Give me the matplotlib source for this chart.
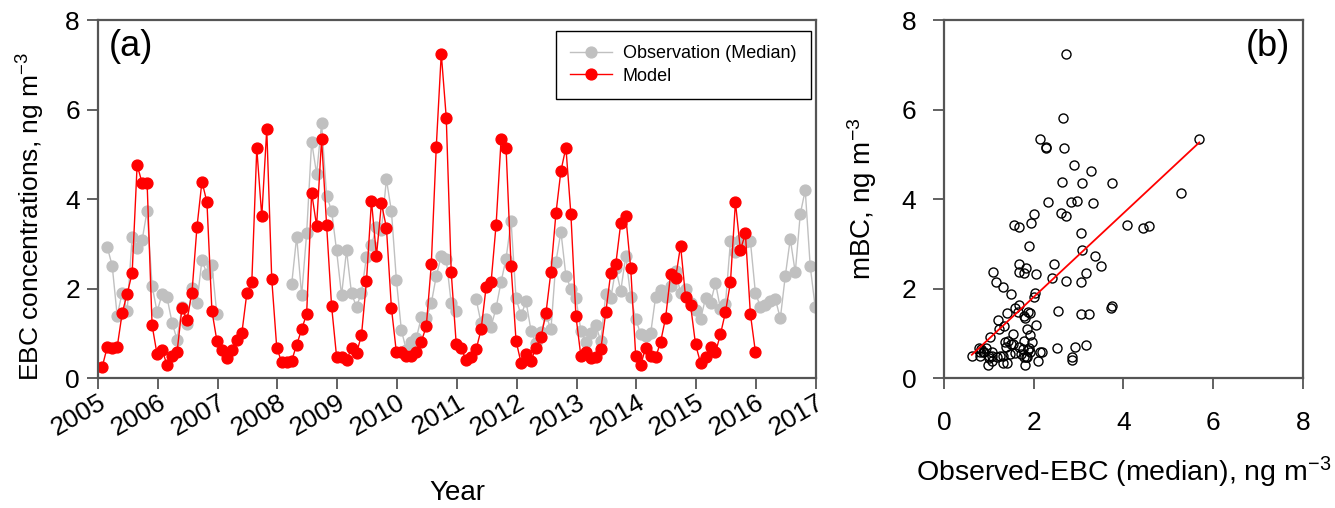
import numpy as np
import matplotlib
matplotlib.use("Agg")
import matplotlib.pyplot as plt

plt.rcParams['font.family'] = ['Liberation Sans', 'DejaVu Sans']
plt.rcParams['mathtext.fontset'] = 'custom'
plt.rcParams['mathtext.rm'] = 'Liberation Sans'
plt.rcParams['mathtext.it'] = 'Liberation Sans:italic'

nan = np.nan

# monthly values starting Jan 2005
first_year = 2005
year_ticks = np.arange(2005, 2018)

# modelled EBC, Jan 2005 - Dec 2015 (ng m-3)
model = [0.25, 0.69, 0.66, 0.69, 1.45, 1.88, 2.34, 4.76, 4.36, 4.36, 1.18, 0.53,
         0.63, 0.29, 0.50, 0.57, 1.57, 1.30, 1.91, 3.37, 4.39, 3.93, 1.50, 0.83,
         0.63, 0.45, 0.63, 0.85, 1.00, 1.89, 2.14, 5.13, 3.61, 5.56, 2.21, 0.68,
         0.35, 0.35, 0.39, 0.74, 1.09, 1.43, 4.14, 3.40, 5.34, 3.42, 1.61, 0.48,
         0.46, 0.40, 0.66, 0.55, 0.96, 2.17, 3.96, 2.73, 3.90, 3.36, 1.57, 0.57,
         0.59, 0.50, 0.49, 0.59, 0.81, 1.16, 2.54, 5.17, 7.25, 5.82, 2.36, 0.76,
         0.66, 0.40, 0.46, 0.64, 1.09, 2.04, 2.15, 3.43, 5.33, 5.13, 2.50, 0.83,
         0.34, 0.54, 0.38, 0.68, 0.91, 1.45, 2.38, 3.68, 4.63, 5.15, 3.66, 1.39,
         0.49, 0.57, 0.44, 0.48, 0.64, 1.47, 2.35, 2.54, 3.46, 3.62, 2.45, 0.49,
         0.29, 0.68, 0.49, 0.46, 0.81, 1.35, 2.32, 2.23, 2.96, 1.80, 1.63, 0.75,
         0.34, 0.48, 0.69, 0.57, 0.98, 1.47, 2.14, 3.93, 2.86, 3.23, 1.43, 0.59]

# observed EBC monthly median, Jan 2005 - Dec 2016 (nan = no data)
obs = [nan, 2.93, 2.51, 1.39, 1.91, 1.50, 3.16, 2.90, 3.08, 3.74, 2.06, 1.48,
       1.87, 1.80, 1.24, 0.86, 1.59, 1.21, 2.02, 1.68, 2.64, 2.32, 2.53, 1.42,
       nan, nan, nan, nan, nan, nan, nan, nan, nan, nan, nan, nan,
       nan, nan, 2.10, 3.16, 1.85, 3.23, 5.28, 4.56, 5.69, 4.07, 3.74, 2.85,
       1.85, 2.85, 1.89, 1.59, 1.91, 2.71, 2.97, 3.37, 3.31, 4.44, 3.73, 2.19,
       1.07, 0.62, 0.81, 0.89, 1.36, 1.34, 1.67, 2.28, 2.73, 2.65, 1.67, 1.50,
       nan, nan, nan, 1.76, 1.22, 1.31, 1.15, 1.57, 2.15, 2.67, 3.51, 1.78,
       1.40, 1.71, 1.06, 0.78, 1.02, 1.40, 1.09, 2.60, 3.27, 2.28, 2.00, 1.79,
       1.06, 0.81, 1.01, 1.18, 0.82, 1.88, 1.78, 2.45, 1.95, 2.72, 1.82, 1.32,
       0.98, 0.94, 1.00, 1.82, 1.96, 1.80, 2.06, 2.40, 1.89, 2.00, 1.67, 1.53,
       1.31, 1.78, 1.67, 2.13, 1.54, 1.65, 3.06, 2.82, 3.08, 3.05, 3.06, 1.91,
       1.59, 1.63, 1.71, 1.77, 1.33, 2.28, 3.11, 2.36, 3.66, 4.20, 2.50, 1.58]

model = np.array(model)
obs = np.array(obs)
t_model = first_year + (np.arange(len(model)) + 0.85) / 12
t_obs = first_year + (np.arange(len(obs)) + 0.85) / 12

# matched pairs for the scatter plot
obs_m = obs[:len(model)]
ok = ~np.isnan(obs_m)
x_sc = obs_m[ok]
y_sc = model[ok]
slope, icpt = np.polyfit(x_sc, y_sc, 1)
x_fit = np.array([x_sc.min(), x_sc.max()])

spine_col = '#555555'

fig = plt.figure(figsize=(13.35, 5.08), dpi=100)
ax1 = fig.add_axes([0.0734, 0.2559, 0.5378, 0.7047])
ax2 = fig.add_axes([0.7071, 0.2559, 0.2689, 0.7047])

for ax in (ax1, ax2):
    for sp in ax.spines.values():
        sp.set_color(spine_col)
        sp.set_linewidth(1.6)
    ax.tick_params(direction='out', length=8, width=1.3, color=spine_col,
                   labelsize=19)
    ax.set_ylim(0, 8)
    ax.set_yticks([0, 2, 4, 6, 8])

# (a) time series
ax1.plot(t_obs, obs, '-o', color='#C0C0C0', lw=1.0, ms=7.8,
         label='Observation (Median)')
ax1.plot(t_model, model, '-o', color='#FF0000', lw=1.0, ms=7.8, label='Model')
ax1.set_xlim(2005, 2017)
ax1.set_xticks(year_ticks)
ax1.set_xticklabels([str(y) for y in year_ticks], rotation=30, ha='right',
                    rotation_mode='anchor')
ax1.tick_params(axis='x', pad=1)
ax1.tick_params(axis='y', pad=5)
ax1.set_xlabel('Year', fontsize=20)
ax1.set_ylabel('EBC concentrations, ng m$^{-3}$', fontsize=19)
ax1.xaxis.set_label_coords(0.5, -0.285)
ax1.yaxis.set_label_coords(-0.071, 0.45)
ax1.text(0.015, 0.975, '(a)', transform=ax1.transAxes, fontsize=26,
         va='top', ha='left')
leg = ax1.legend(loc='upper right', bbox_to_anchor=(0.9926, 0.970),
                 borderaxespad=0, fontsize=13, fancybox=False, framealpha=1,
                 edgecolor='black', handlelength=2.3, handletextpad=0.6,
                 labelspacing=0.3, borderpad=0.8)
leg.get_frame().set_linewidth(1.0)

# (b) scatter
ax2.plot(x_sc, y_sc, 'o', mfc='none', mec='black', mew=1.0, ms=6.5)
ax2.plot(x_fit, icpt + slope * x_fit, color='#FF0000', lw=1.3)
ax2.set_xlim(0, 8)
ax2.set_xticks([0, 2, 4, 6, 8])
ax2.tick_params(axis='x', pad=16)
ax2.tick_params(axis='y', pad=12)
ax2.set_xlabel('Observed-EBC (median), ng m$^{-3}$', fontsize=20.5)
ax2.set_ylabel('mBC, ng m$^{-3}$', fontsize=20)
ax2.xaxis.set_label_coords(0.5, -0.215)
ax2.yaxis.set_label_coords(-0.18, 0.5)
ax2.text(0.965, 0.975, '(b)', transform=ax2.transAxes, fontsize=26,
         va='top', ha='right')

fig.savefig('out.png', dpi=100)
